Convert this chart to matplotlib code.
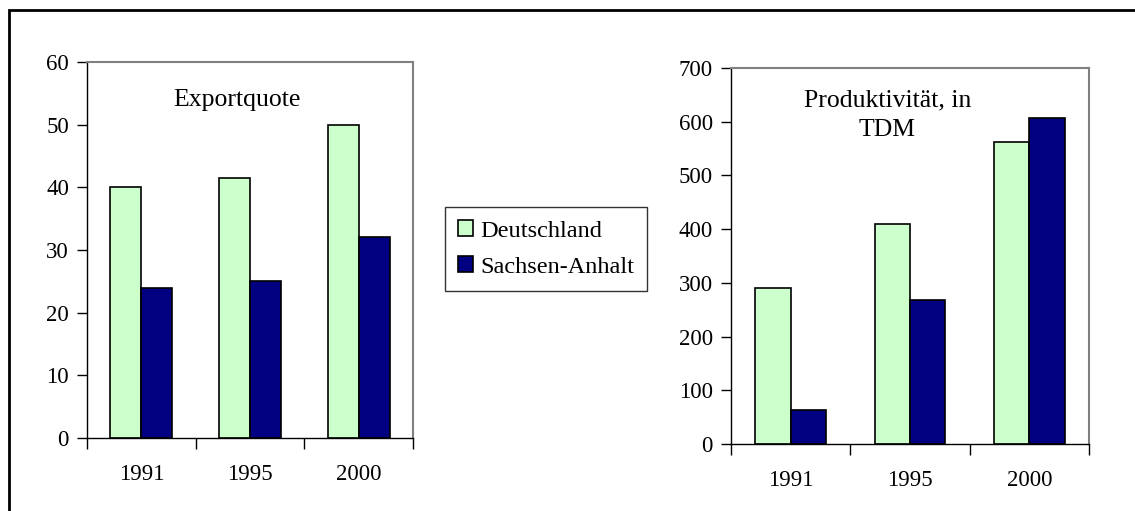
import matplotlib.pyplot as plt
from matplotlib.patches import Rectangle
import numpy as np

plt.rcParams["font.family"] = ["Liberation Serif", "DejaVu Serif"]

YEARS = ["1991", "1995", "2000"]
SERIES = ["Deutschland", "Sachsen-Anhalt"]
EXPORT_DE = [40, 41.5, 50]
EXPORT_ST = [24, 25, 32]
PROD_DE = [290, 410, 563]
PROD_ST = [64, 269, 607]

GREEN = "#ccffcc"
NAVY = "#000080"
W, H = 1135, 511

fig = plt.figure(figsize=(W / 100, H / 100), dpi=100)

# outer frame, right and bottom edges run off the picture
fig.patches.append(Rectangle((9 / W, -0.1), 1.2, 1 - 10 / H + 0.1,
                             transform=fig.transFigure, fill=False,
                             edgecolor="black", linewidth=2))


def panel(rect, de, st, ymax, step, width, label, label_xy):
    l, t, r, b = rect
    ax = fig.add_axes([l / W, 1 - b / H, (r - l) / W, (b - t) / H])
    x = np.arange(len(YEARS))
    ax.bar(x - width / 2, de, width, color=GREEN, edgecolor="black", linewidth=1.2, label=SERIES[0])
    ax.bar(x + width / 2, st, width, color=NAVY, edgecolor="black", linewidth=1.2, label=SERIES[1])
    ax.set_xlim(-0.5, len(YEARS) - 0.5)
    ax.set_ylim(0, ymax)
    ax.set_yticks(np.arange(0, ymax + 1, step))
    ax.set_xticks(np.arange(len(YEARS) + 1) - 0.5)
    ax.set_xticklabels([])
    ax.set_xticks(x, minor=True)
    ax.set_xticklabels(YEARS, minor=True, fontsize=16.5)
    ax.tick_params(axis="x", which="minor", length=0, pad=19)
    ax.tick_params(axis="x", which="major", length=8, width=1, direction="out")
    ax.tick_params(axis="y", length=7, width=1, labelsize=16.5, pad=6)
    for side in ("top", "right"):
        ax.spines[side].set_color("#808080")
        ax.spines[side].set_linewidth(1.5)
    for side in ("left", "bottom"):
        ax.spines[side].set_color("black")
        ax.spines[side].set_linewidth(1)
    ax.text(*label_xy, label, transform=ax.transAxes, ha="center", va="center",
            fontsize=18.5, linespacing=1.45)
    return ax


ax1 = panel((87, 62, 413, 438), EXPORT_DE, EXPORT_ST, 60, 10, 0.285,
            "Exportquote", (0.46, 0.9))
ax2 = panel((731, 68, 1089, 444), PROD_DE, PROD_ST, 700, 100, 0.295,
            "Produktivität, in\nTDM", (0.437, 0.875))

leg = fig.legend(*ax1.get_legend_handles_labels(), loc="center",
                 bbox_to_anchor=(546 / W, 1 - 249 / H), fontsize=17.5,
                 frameon=True, fancybox=False, handlelength=0.6, handleheight=0.6,
                 handletextpad=0.3, labelspacing=0.6, borderpad=0.55,
                 borderaxespad=0)
leg.get_frame().set_edgecolor("black")
leg.get_frame().set_linewidth(1)

fig.savefig("out.png", dpi=100, facecolor="white")
